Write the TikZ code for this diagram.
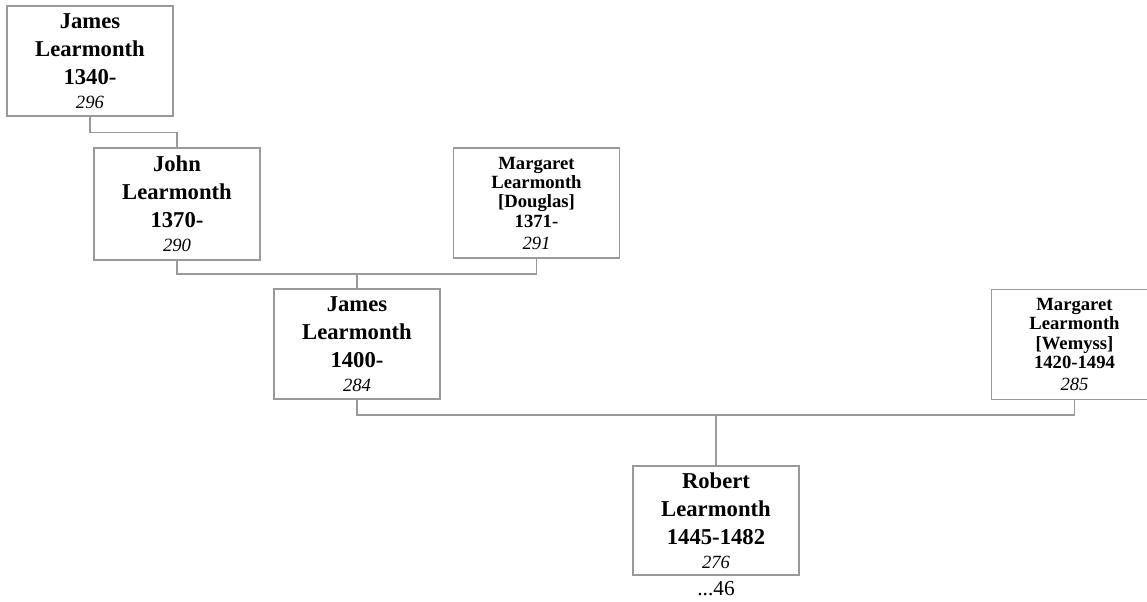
\documentclass[tikz,border=0pt]{standalone}
\usepackage{fontspec}
\setmainfont{Liberation Serif}
\usetikzlibrary{positioning}

\newcommand{\famnum}[1]{{\normalfont\itshape\fontsize{14}{14}\selectfont #1}}

\begin{document}
\begin{tikzpicture}[x=0.75pt, y=-0.75pt,
    person/.style={rectangle, draw=gray!80, line width=1pt, minimum width=124.5pt, minimum height=82.5pt, inner sep=0pt, align=center, font=\fontsize{17}{21}\selectfont\bfseries},
    spouse/.style={person, font=\fontsize{14}{14.5}\selectfont\bfseries},
    link/.style={draw=gray!80, line width=1pt}
]
\clip (0,0) rectangle (1147,602);
\node[person] (j1340) at (90,61) {James\\Learmonth\\1340-\\[-3pt]\famnum{296}};
\node[person, minimum height=84pt] (john) at (177,204) {John\\Learmonth\\1370-\\[-3pt]\famnum{290}};
\node[spouse] (margd) at (536.5,203) {Margaret\\Learmonth\\{}[Douglas]\\1371-\\[2pt]\famnum{291}};
\node[person] (j1400) at (357,344) {James\\Learmonth\\1400-\\[-3pt]\famnum{284}};
\node[spouse] (margw) at (1074.5,344.5) {Margaret\\Learmonth\\{}[Wemyss]\\1420-1494\\[2pt]\famnum{285}};
\node[person, minimum height=81.75pt] (robert) at (716,520.5) {Robert\\Learmonth\\1445-1482\\[-3pt]\famnum{276}};
\node[font=\fontsize{16}{16}\selectfont, inner sep=0pt] (more) at (716,589) {...46};

% lines
\coordinate (bar1) at (357,274);
\coordinate (bar2) at (716,415);
\draw[link] (j1340.south) -- ++(0,16) -| (john.north);
\draw[link] (john.south) |- (bar1) -| (margd.south);
\draw[link] (bar1) -- (j1400.north);
\draw[link] (j1400.south) |- (bar2) -| (margw.south);
\draw[link] (bar2) -- (robert.north);
\end{tikzpicture}
\end{document}
